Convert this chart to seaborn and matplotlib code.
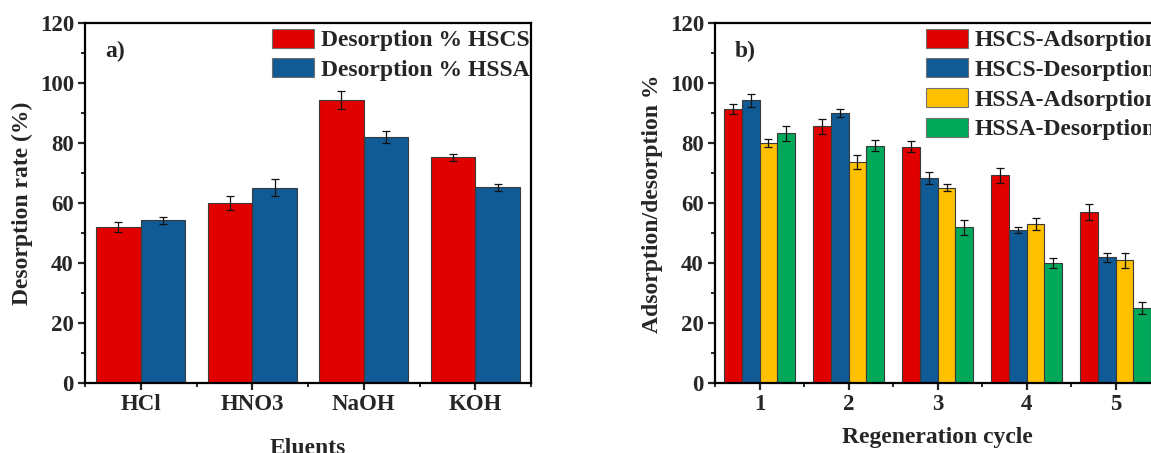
import numpy as np
import pandas as pd
import matplotlib
matplotlib.use("Agg")
import matplotlib.pyplot as plt
from matplotlib.ticker import MultipleLocator, FixedLocator
import seaborn as sns

# ---- panel a: desorption with different eluents ----
eluents = ["HCl", "HNO3", "NaOH", "KOH"]
des_hscs = [52.1, 60.2, 94.4, 75.3]
des_hscs_err = [1.6, 2.4, 2.9, 1.2]
des_hssa = [54.3, 65.2, 82.2, 65.3]
des_hssa_err = [1.1, 2.8, 2.0, 1.1]
series_a = ["Desorption % HSCS", "Desorption % HSSA"]

# ---- panel b: adsorption/desorption over regeneration cycles ----
cycles = ["1", "2", "3", "4", "5"]
hscs_ads = [91.4, 85.7, 78.9, 69.3, 57.1]
hscs_ads_err = [1.7, 2.5, 1.8, 2.4, 2.7]
hscs_des = [94.3, 90.1, 68.4, 51.1, 42.1]
hscs_des_err = [2.3, 1.4, 2.1, 1.0, 1.5]
hssa_ads = [80.1, 73.7, 65.2, 53.1, 41.1]
hssa_ads_err = [1.4, 2.3, 1.1, 2.1, 2.5]
hssa_des = [83.3, 79.2, 52.0, 40.0, 25.2]
hssa_des_err = [2.5, 1.9, 2.4, 1.7, 2.0]
series_b = ["HSCS-Adsorption", "HSCS-Desorption", "HSSA-Adsorption", "HSSA-Desorption"]

RED, BLUE, YELLOW, GREEN = "#E00000", "#105A96", "#FFC000", "#00A859"

sns.set_style("ticks")
plt.rcParams["font.family"] = ["Liberation Serif", "DejaVu Serif"]
plt.rcParams["font.weight"] = "bold"
plt.rcParams["axes.labelweight"] = "bold"
FS_TICK = 16.5
FS_LAB = 17
FS_LEG = 17

df_a = pd.DataFrame({
    "Eluent": eluents * 2,
    "value": des_hscs + des_hssa,
    "series": [series_a[0]] * 4 + [series_a[1]] * 4,
})
err_a = [des_hscs_err, des_hssa_err]

df_b = pd.DataFrame({
    "cycle": cycles * 4,
    "value": hscs_ads + hscs_des + hssa_ads + hssa_des,
    "series": sum([[s] * 5 for s in series_b], []),
})
err_b = [hscs_ads_err, hscs_des_err, hssa_ads_err, hssa_des_err]

fig = plt.figure(figsize=(11.51, 4.53), dpi=100)
W, H = 1151, 453
ax_a = fig.add_axes([85 / W, (H - 383.3) / H, 446 / W, 360 / H])
ax_b = fig.add_axes([715 / W, (H - 383.3) / H, 445.2 / W, 360 / H])


def draw_panel(ax, df, xcol, errs, palette):
    sns.barplot(data=df, x=xcol, y="value", hue="series", palette=palette,
                saturation=1, errorbar=None, width=0.8, gap=0,
                edgecolor="#3a3a3a", linewidth=0.8, ax=ax)
    for cont, e in zip(ax.containers, errs):
        xs = [p.get_x() + p.get_width() / 2 for p in cont]
        ys = [p.get_height() for p in cont]
        ax.errorbar(xs, ys, yerr=e, fmt="none", ecolor="#111111",
                    elinewidth=0.9, capsize=3, capthick=0.9, zorder=5)
    n = df[xcol].nunique()
    ax.set_xlim(-0.5, n - 0.5)
    ax.set_ylim(0, 120)
    ax.yaxis.set_major_locator(MultipleLocator(20))
    ax.yaxis.set_minor_locator(MultipleLocator(10))
    ax.xaxis.set_minor_locator(FixedLocator(np.arange(-0.5, n, 1.0)))
    ax.tick_params(axis="both", which="major", direction="out", length=5,
                   width=1.6, labelsize=FS_TICK, pad=3)
    ax.tick_params(axis="both", which="minor", direction="out", length=3,
                   width=1.4)
    ax.tick_params(top=False, right=False, which="both")
    for s in ax.spines.values():
        s.set_visible(True)
        s.set_linewidth(1.6)
        s.set_color("black")
    for lab in ax.get_xticklabels() + ax.get_yticklabels():
        lab.set_fontweight("bold")


draw_panel(ax_a, df_a, "Eluent", err_a, [RED, BLUE])
draw_panel(ax_b, df_b, "cycle", err_b, [RED, BLUE, YELLOW, GREEN])

ax_a.set_xlabel("Eluents", fontsize=FS_LAB, fontweight="bold", labelpad=16)
ax_a.set_ylabel("Desorption rate (%)", fontsize=FS_LAB, fontweight="bold", labelpad=5)
ax_b.set_xlabel("Regeneration cycle", fontsize=FS_LAB, fontweight="bold", labelpad=8)
ax_b.set_ylabel("Adsorption/desorption %", fontsize=FS_LAB, fontweight="bold", labelpad=5)

ax_a.text(0.045, 0.95, "a)", transform=ax_a.transAxes, fontsize=FS_LEG,
          fontweight="bold", va="top", ha="left")
ax_b.text(0.045, 0.95, "b)", transform=ax_b.transAxes, fontsize=FS_LEG,
          fontweight="bold", va="top", ha="left")

for ax, x0 in ((ax_a, 0.4186), (ax_b, 0.4733)):
    h, l = ax.get_legend_handles_labels()
    leg = ax.legend(h, l, loc="upper left", bbox_to_anchor=(x0, 0.985),
                    frameon=False, fontsize=FS_LEG, handlelength=1.78,
                    handleheight=0.85, handletextpad=0.3, labelspacing=0.3,
                    borderaxespad=0, borderpad=0)
    for t in leg.get_texts():
        t.set_fontweight("bold")
    for p in leg.get_patches():
        p.set_edgecolor("#707070")
        p.set_linewidth(0.8)

fig.savefig("out.png", dpi=100)
